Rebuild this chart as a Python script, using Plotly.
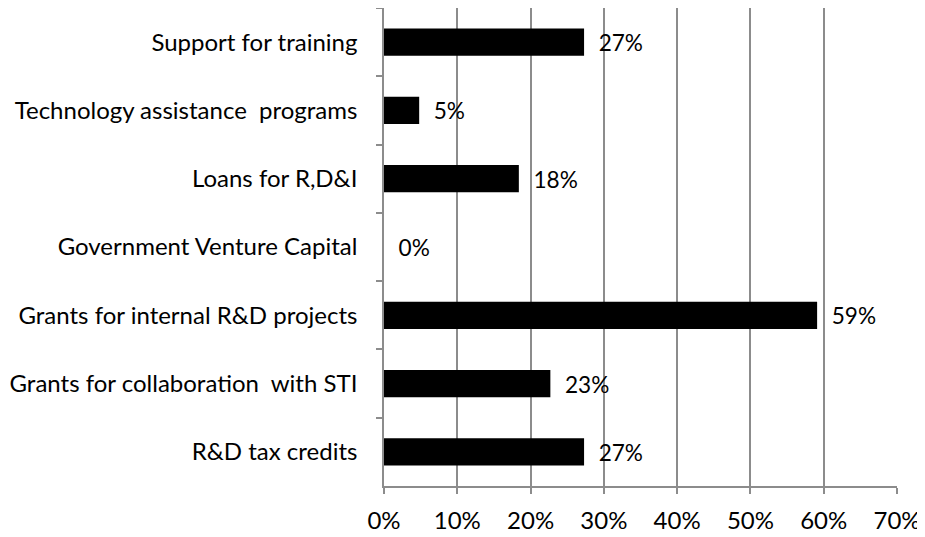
import plotly.graph_objects as go

categories = [
    "Support for training",
    "Technology assistance  programs",
    "Loans for R,D&I",
    "Government Venture Capital",
    "Grants for internal R&D projects",
    "Grants for collaboration  with STI",
    "R&D tax credits",
]
values = [0.273, 0.048, 0.184, 0.0, 0.591, 0.227, 0.273]
value_labels = ["27%", "5%", "18%", "0%", "59%", "23%", "27%"]
x_tick_vals = [0, 0.1, 0.2, 0.3, 0.4, 0.5, 0.6, 0.7]
x_tick_text = ["0%", "10%", "20%", "30%", "40%", "50%", "60%", "70%"]

FONT = "Lato"
GRID = "#8c8c8c"
FS = 24

fig = go.Figure(
    go.Bar(
        y=categories,
        x=values,
        orientation="h",
        marker=dict(color="#000000", line=dict(width=0)),
        width=0.4,
        text=value_labels,
        texttemplate="\u00a0\u00a0%{text}",
        textposition="outside",
        textfont=dict(family=FONT, size=FS, color="#000000"),
        cliponaxis=False,
    )
)

fig.update_layout(
    width=917,
    height=529,
    margin=dict(l=376, r=28, t=0, b=51),
    paper_bgcolor="white",
    plot_bgcolor="white",
    showlegend=False,
    font=dict(family=FONT, size=FS, color="#000000"),
)

fig.update_xaxes(
    range=[0, 0.7],
    tickvals=x_tick_vals,
    ticktext=x_tick_text,
    showgrid=True,
    gridcolor=GRID,
    gridwidth=1.5,
    showline=True,
    linecolor=GRID,
    linewidth=1.5,
    ticks="outside",
    ticklen=6,
    tickcolor=GRID,
    tickwidth=1.5,
    zeroline=False,
    ticklabelstandoff=6,
    tickfont=dict(family=FONT, size=FS, color="#000000"),
)

fig.update_yaxes(
    categoryorder="array",
    categoryarray=categories,
    autorange="reversed",
    showgrid=False,
    showline=True,
    linecolor=GRID,
    linewidth=1.5,
    ticks="outside",
    tickson="boundaries",
    ticklen=6,
    tickcolor=GRID,
    tickwidth=1.5,
    ticklabelstandoff=20,
    tickfont=dict(family=FONT, size=FS, color="#000000"),
)

fig.write_html("out.html")
